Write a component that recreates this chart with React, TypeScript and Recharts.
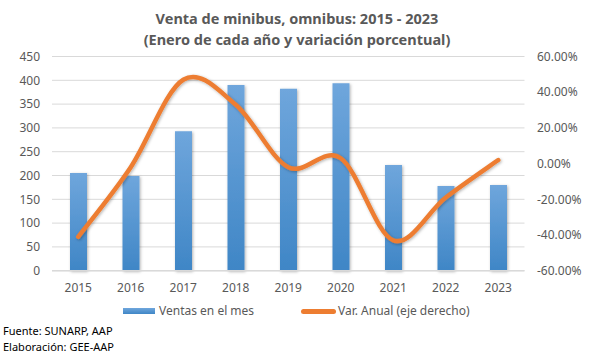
import React from 'react';
import { ComposedChart, Bar, Line, XAxis, YAxis, CartesianGrid } from 'recharts';

const years = ['2015', '2016', '2017', '2018', '2019', '2020', '2021', '2022', '2023'];
const ventas = [205, 199, 293, 390, 382, 394, 222, 178, 180];
const varAnual = [-41, -2, 47, 33, -2, 3, -43, -19, 2];
const leftTicks = [0, 50, 100, 150, 200, 250, 300, 350, 400, 450];
const rightTicks = [-60, -40, -20, 0, 20, 40, 60];

const data = years.map((y, i) => ({ year: y, ventas: ventas[i], varAnual: varAnual[i] }));

const FONT = '"Noto Sans", sans-serif';
const GREY = '#595959';

// Excel-like smoothed line (Catmull-Rom as cubic Bezier)
const excelSmooth: any = (context: any) => {
  let pts: number[][] = [];
  return {
    areaStart() {},
    areaEnd() {},
    lineStart() {
      pts = [];
    },
    point(x: number, y: number) {
      pts.push([+x, +y]);
    },
    lineEnd() {
      const n = pts.length;
      if (!n) return;
      context.moveTo(pts[0][0], pts[0][1]);
      for (let i = 0; i < n - 1; i++) {
        const p0 = pts[i - 1] || pts[i];
        const p1 = pts[i];
        const p2 = pts[i + 1];
        const p3 = pts[i + 2] || p2;
        context.bezierCurveTo(
          p1[0] + (p2[0] - p0[0]) / 6,
          p1[1] + (p2[1] - p0[1]) / 6,
          p2[0] - (p3[0] - p1[0]) / 6,
          p2[1] - (p3[1] - p1[1]) / 6,
          p2[0],
          p2[1]
        );
      }
    },
  };
};

export default function App() {
  return (
    <div style={{ position: 'absolute', left: 0, top: 0, width: 594, height: 357, background: '#fff', fontFamily: FONT }}>
      <div style={{ position: 'absolute', top: 8, left: 0, width: 594, textAlign: 'center', fontWeight: 700, fontSize: 14.5, color: GREY, lineHeight: '21px' }}>
        <div>Venta de minibus, omnibus: 2015 - 2023</div>
        <div>(Enero de cada año y variación porcentual)</div>
      </div>
      <ComposedChart
        width={594}
        height={357}
        data={data}
        margin={{ top: 56.5, right: 0, bottom: 56.3, left: 0 }}
        style={{ position: 'absolute', left: 0, top: 0 }}
      >
        <defs>
          <linearGradient id="barGrad" x1="0" y1="0" x2="0" y2="1">
            <stop offset="0%" stopColor="#6FA6DC" />
            <stop offset="100%" stopColor="#3F86C6" />
          </linearGradient>
          <filter id="shadow" x="-50%" y="-10%" width="200%" height="130%">
            <feDropShadow dx="1" dy="1" stdDeviation="1.5" floodColor="#000" floodOpacity="0.3" />
          </filter>
        </defs>
        <CartesianGrid yAxisId="left" vertical={false} stroke="#d9d9d9" strokeWidth={1} />
        <XAxis
          dataKey="year"
          height={30}
          axisLine={{ stroke: '#d9d9d9', strokeWidth: 1.5 }}
          tickLine={false}
          tickMargin={7}
          tick={{ fill: GREY, fontSize: 12, fontFamily: FONT }}
        />
        <YAxis
          yAxisId="left"
          width={52}
          domain={[0, 450]}
          ticks={leftTicks}
          axisLine={false}
          tickLine={false}
          tickMargin={6}
          tick={{ fill: GREY, fontSize: 12, fontFamily: FONT }}
        />
        <YAxis
          yAxisId="right"
          orientation="right"
          width={69.5}
          domain={[-60, 60]}
          ticks={rightTicks}
          axisLine={false}
          tickLine={false}
          tickMargin={6.5}
          tickFormatter={(v: number) => v.toFixed(2) + '%'}
          tick={{ fill: GREY, fontSize: 12, fontFamily: FONT, textAnchor: 'start' }}
        />
        <Bar
          yAxisId="left"
          dataKey="ventas"
          barSize={17}
          fill="url(#barGrad)"
          filter="url(#shadow)"
          isAnimationActive={false}
        />
        <Line
          yAxisId="right"
          dataKey="varAnual"
          type={excelSmooth}
          stroke="#ED7D31"
          strokeWidth={4.5}
          strokeLinecap="round"
          dot={false}
          activeDot={false}
          filter="url(#shadow)"
          isAnimationActive={false}
        />
      </ComposedChart>
      <div style={{ position: 'absolute', top: 302, left: 0, width: 594, height: 18, fontSize: 12, color: GREY }}>
        <div style={{ position: 'absolute', left: 123, top: 6, width: 32, height: 6, background: 'linear-gradient(#6FA6DC, #3F86C6)' }} />
        <div style={{ position: 'absolute', left: 159, top: 0, whiteSpace: 'nowrap' }}>Ventas en el mes</div>
        <div style={{ position: 'absolute', left: 301, top: 7, width: 35, height: 4.5, borderRadius: 3, background: '#ED7D31' }} />
        <div style={{ position: 'absolute', left: 338, top: 0, whiteSpace: 'nowrap' }}>Var. Anual (eje derecho)</div>
      </div>
      <div style={{ position: 'absolute', left: 3, top: 323, fontSize: 11, color: '#000', lineHeight: '16px' }}>
        <div>Fuente: SUNARP, AAP</div>
        <div>Elaboración: GEE-AAP</div>
      </div>
    </div>
  );
}
